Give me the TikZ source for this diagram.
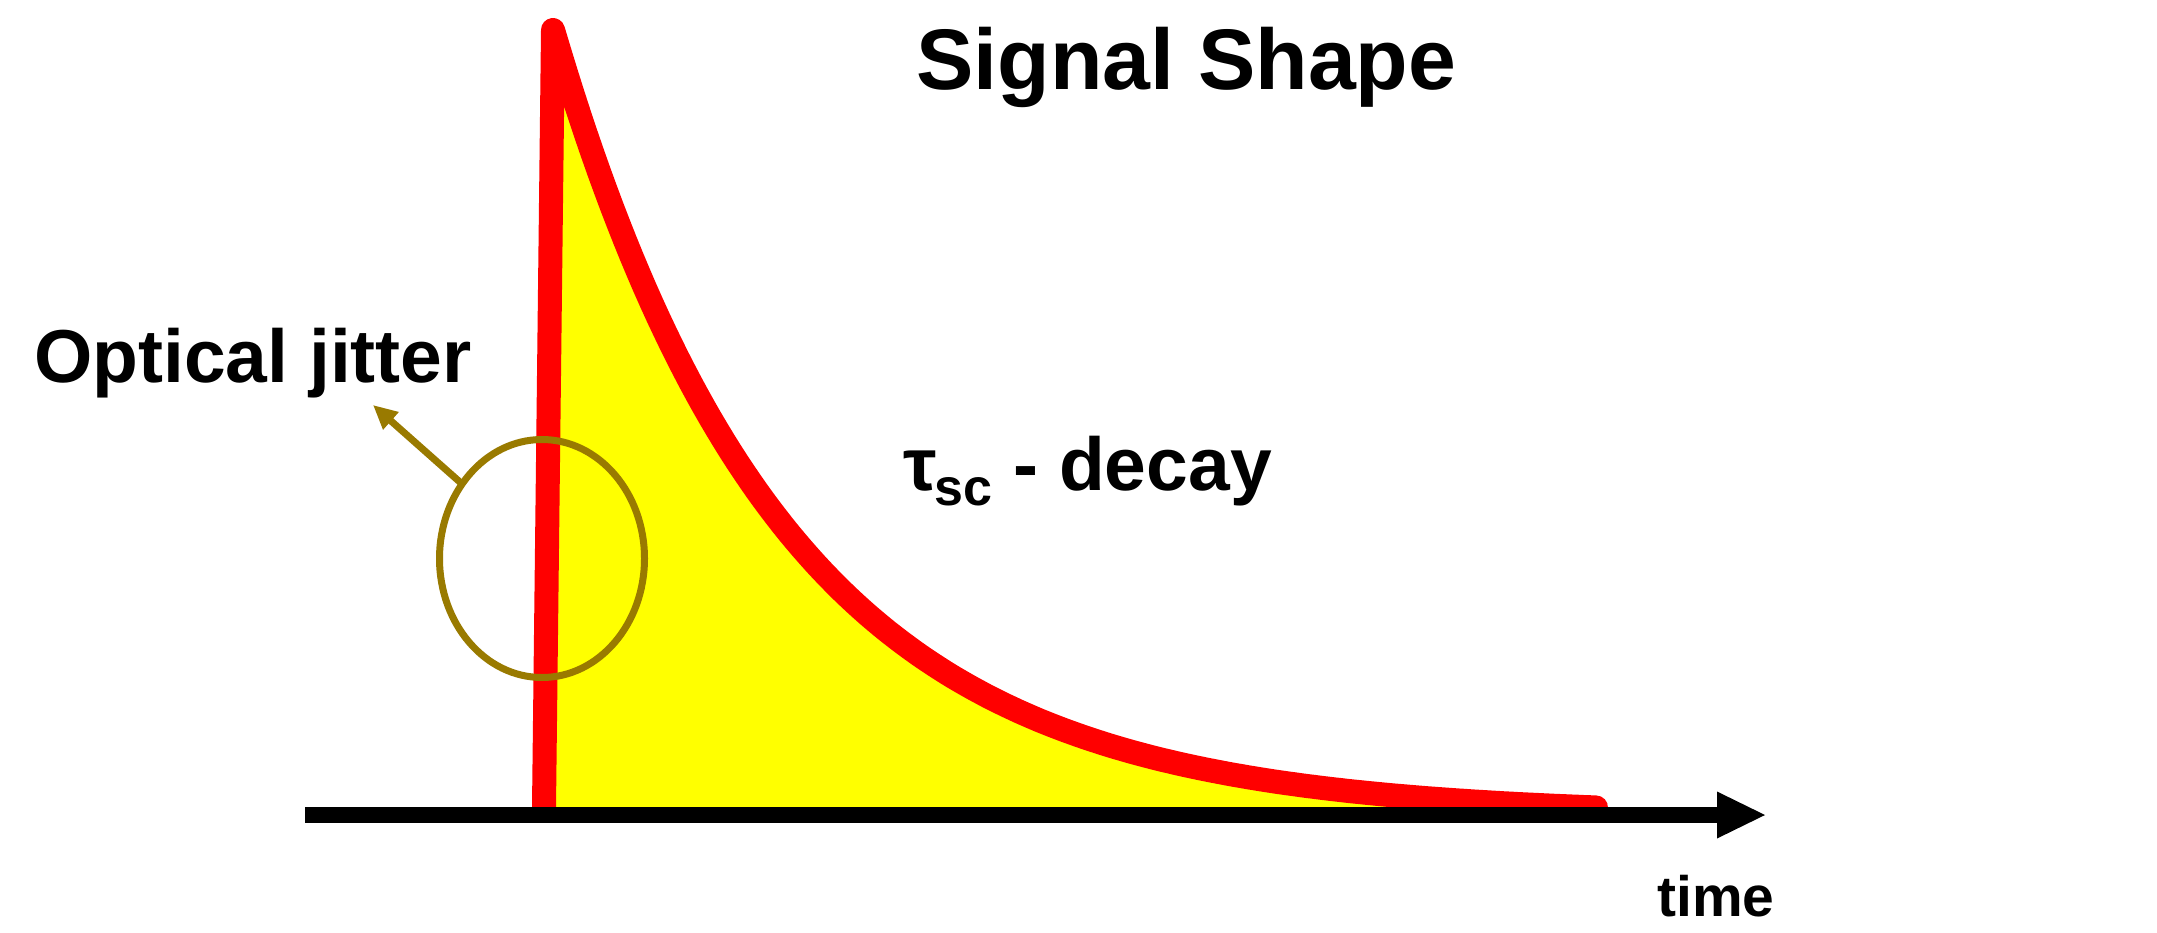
\documentclass[tikz,border=0pt]{standalone}
\usepackage{fontspec}
\setmainfont{Liberation Sans}
\usetikzlibrary{shapes.geometric,arrows.meta}
\definecolor{jitcol}{RGB}{153,122,0}
\definecolor{fillyel}{RGB}{255,255,0}
\definecolor{sigred}{RGB}{255,0,0}
\begin{document}
\begin{tikzpicture}[x=1pt,y=-1pt,
  lbl/.style={anchor=base west, inner sep=0pt},
  big/.style={font=\fontsize{75}{90}\selectfont\bfseries},
  title/.style={font=\fontsize{86}{100}\selectfont\bfseries},
  small/.style={font=\fontsize{57}{66}\selectfont\bfseries},
  signal/.style={sigred, line width=24pt, line cap=round, line join=round},
  jitter/.style={draw=jitcol, line width=7pt},
  axisline/.style={line width=16pt}]
\useasboundingbox (0,0) rectangle (2157,932);
% yellow area
\fill[fillyel] (544,807) -- (553,30) -- plot[domain=553:1596, samples=160] (\x,{816-786*exp(-(\x-553)/231)}) -- (1596,807) -- cycle;
% red signal
\draw[signal] (544,807) -- (553,30) -- plot[domain=553:1596, samples=160] (\x,{816-786*exp(-(\x-553)/231)});
% time axis
\coordinate (axL) at (305,815);
\coordinate (axB) at (1717,815);
\coordinate (axT) at (1765,815);
\draw[axisline] (axL) -- (axB);
\fill (1717,791.5) -- (axT) -- (1717,838.5) -- cycle;
% jitter ellipse and arrow
\node[ellipse, jitter, minimum width=205pt, minimum height=238pt, inner sep=0pt, outer sep=0pt] (jit) at (542,558.5) {};
\coordinate (ojtip) at (373,405);
\draw[jitcol, line width=7pt, -{Triangle[length=24pt,width=22pt]}] (jit.137) -- (ojtip);
% labels
\node[lbl, big] (oj) at (34,382) {Optical jitter};
\node[lbl, title] (ttl) at (916,89) {Signal Shape};
\node[lbl, big] (tau) at (903,490) {τ\kern-2pt\raisebox{-15pt}{\fontsize{52}{60}\selectfont sc} - decay};
\node[lbl, small] (time) at (1657,916) {time};
\end{tikzpicture}
\end{document}
